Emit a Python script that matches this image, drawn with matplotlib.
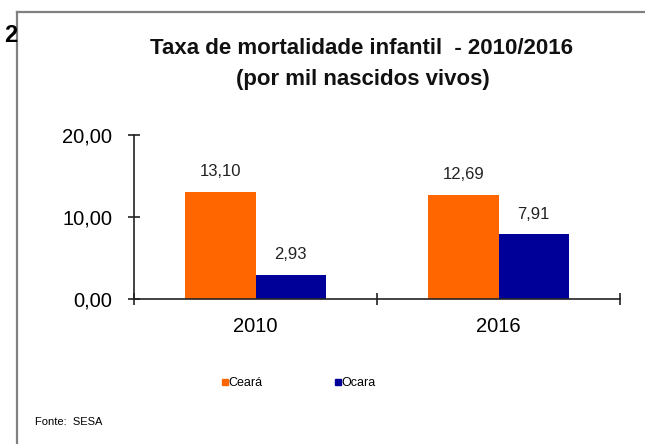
import matplotlib
matplotlib.use("Agg")
import matplotlib.pyplot as plt
from matplotlib.lines import Line2D
import numpy as np

plt.rcParams['font.family'] = ['Liberation Sans', 'DejaVu Sans']

categories = ["2010", "2016"]
series_names = ["Ceará", "Ocara"]
ceara = [13.10, 12.69]
ocara = [2.93, 7.91]
ceara_labels = ["13,10", "12,69"]
ocara_labels = ["2,93", "7,91"]
yticks = [0, 10, 20]
ytick_labels = ["0,00", "10,00", "20,00"]
colors = ["#FF6600", "#000099"]

W, H = 645, 444
fig = plt.figure(figsize=(W / 100, H / 100), dpi=100)

# outer frame
fig.add_artist(Line2D([17 / W, 1.0], [1 - 12 / H, 1 - 12 / H], color="#808080", lw=1.6, transform=fig.transFigure))
fig.add_artist(Line2D([17 / W, 17 / W], [0, 1 - 12 / H], color="#808080", lw=1.6, transform=fig.transFigure))
fig.text(4 / W, 1 - 35 / H, "2", fontsize=17, fontweight="bold", va="center", ha="left")

ax = fig.add_axes([134 / W, 1 - 299 / H, (620 - 134) / W, (299 - 135) / H])
x = np.arange(len(categories))
bw = 0.29
b1 = ax.bar(x - bw / 2, ceara, bw, color=colors[0], label=series_names[0])
b2 = ax.bar(x + bw / 2, ocara, bw, color=colors[1], label=series_names[1])
for bars, labs in ((b1, ceara_labels), (b2, ocara_labels)):
    for r, t in zip(bars, labs):
        ax.annotate(t, (r.get_x() + r.get_width() / 2, r.get_height()), xytext=(0, 9),
                    textcoords="offset points", ha="center", va="bottom", fontsize=12, color="#222222")

ax.set_xlim(-0.5, 1.5)
ax.set_ylim(0, 20)
ax.set_yticks(yticks)
ax.set_yticklabels(ytick_labels, fontsize=14.5)
ax.set_xticks(x)
ax.set_xticklabels(categories, fontsize=14.5)
ax.tick_params(axis="x", length=0, pad=13)
ax.set_xticks([-0.5, 0.5, 1.5], minor=True)
ax.tick_params(axis="x", which="minor", direction="inout", length=9, width=1.2, color="#222222")
ax.tick_params(axis="y", direction="inout", length=9, width=1.2, color="#222222", pad=11)
for s in ("top", "right"):
    ax.spines[s].set_visible(False)
for s in ("left", "bottom"):
    ax.spines[s].set_linewidth(1.2)
    ax.spines[s].set_color("#222222")

fig.text(362 / W, 1 - 49 / H, "Taxa de mortalidade infantil  - 2010/2016", ha="center", va="center",
         fontsize=16, fontweight="bold", color="#111111")
fig.text(363 / W, 1 - 80 / H, "(por mil nascidos vivos)", ha="center", va="center",
         fontsize=16, fontweight="bold", color="#111111")

handles = [Line2D([], [], marker="s", ls="", color=c, markersize=4.5) for c in colors]
fig.legend(handles, series_names, loc="center", bbox_to_anchor=(297 / W, 1 - 383 / H), ncol=2,
           frameon=False, fontsize=9, handletextpad=-0.2, columnspacing=5.5, handlelength=1.0)

fig.text(35 / W, 1 - 422 / H, "Fonte:  SESA", ha="left", va="center", fontsize=8)

fig.savefig("out.png", dpi=100)
